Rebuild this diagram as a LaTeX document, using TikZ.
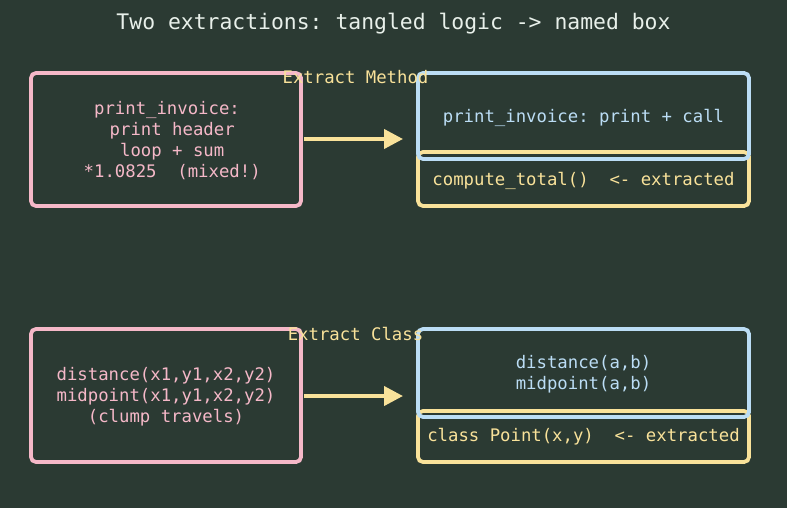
\documentclass[tikz,border=0pt]{standalone}
\usepackage{fontspec}
\setmonofont{DejaVu Sans Mono}
\usetikzlibrary{arrows.meta}
\definecolor{bg}{HTML}{2B3A33}
\definecolor{pinkc}{HTML}{F5B8C8}
\definecolor{bluec}{HTML}{BBDDF5}
\definecolor{yellc}{HTML}{F9E29A}
\definecolor{titlec}{HTML}{E8F0EA}
\tikzset{
  box/.style={draw, line width=3.8pt, rounded corners=5pt, inner sep=0pt, outer sep=0pt, anchor=north west},
  txt/.style={font=\ttfamily\fontsize{17.3}{21}\selectfont, align=center, inner sep=0pt},
  arr/.style={draw=yellc, line width=4pt, -{Triangle[length=19pt,width=19pt]}},
}
\begin{document}
\begin{tikzpicture}[x=1pt,y=-1pt]
\fill[bg] (0,0) rectangle (787,508);
\useasboundingbox (0,0) rectangle (787,508);
\node[font=\ttfamily\fontsize{21.4}{25}\selectfont, text=titlec] (title) at (393.5,24) {Two extractions: tangled logic -> named box};
% row 1
\node[box, draw=pinkc, minimum width=270pt, minimum height=133pt] (p1) at (31,73) {};
\node[txt, text=pinkc] (p1t) at ([xshift=1pt,yshift=-1pt]p1.center) {print\_invoice:\\\ print header\\\ loop + sum\\\ *1.0825\ \ (mixed!)};
\node[box, draw=yellc, minimum width=331pt, minimum height=54pt] (y1) at (418,152) {};
\node[box, draw=bluec, minimum width=331pt, minimum height=86pt] (b1) at (418,73) {};
\node[txt, text=bluec] (b1t) at ([yshift=-2pt]b1.center) {print\_invoice: print + call};
\node[txt, text=yellc] (y1t) at ([yshift=-1.5pt]y1.center) {compute\_total()\ \ <- extracted};
\node[txt, text=yellc] (l1) at (355.5,77) {Extract Method};
\coordinate (a1s) at (304,139);
\coordinate (a1e) at (403,139);
\draw[arr] (a1s) -- (a1e);
% row 2
\node[box, draw=pinkc, minimum width=270pt, minimum height=133pt] (p2) at (31,329) {};
\node[txt, text=pinkc] (p2t) at ([yshift=-1pt]p2.center) {distance(x1,y1,x2,y2)\\midpoint(x1,y1,x2,y2)\\(clump travels)};
\node[box, draw=yellc, minimum width=331pt, minimum height=51pt] (y2) at (418,411) {};
\node[box, draw=bluec, minimum width=331pt, minimum height=88pt] (b2) at (418,329) {};
\node[txt, text=bluec] (b2t) at ([yshift=-1pt]b2.center) {distance(a,b)\\midpoint(a,b)};
\node[txt, text=yellc] (y2t) at (583.5,437) {class Point(x,y)\ \ <- extracted};
\node[txt, text=yellc] (l2) at (355.5,334) {Extract Class};
\coordinate (a2s) at (304,396);
\coordinate (a2e) at (403,396);
\draw[arr] (a2s) -- (a2e);
\end{tikzpicture}
\end{document}
